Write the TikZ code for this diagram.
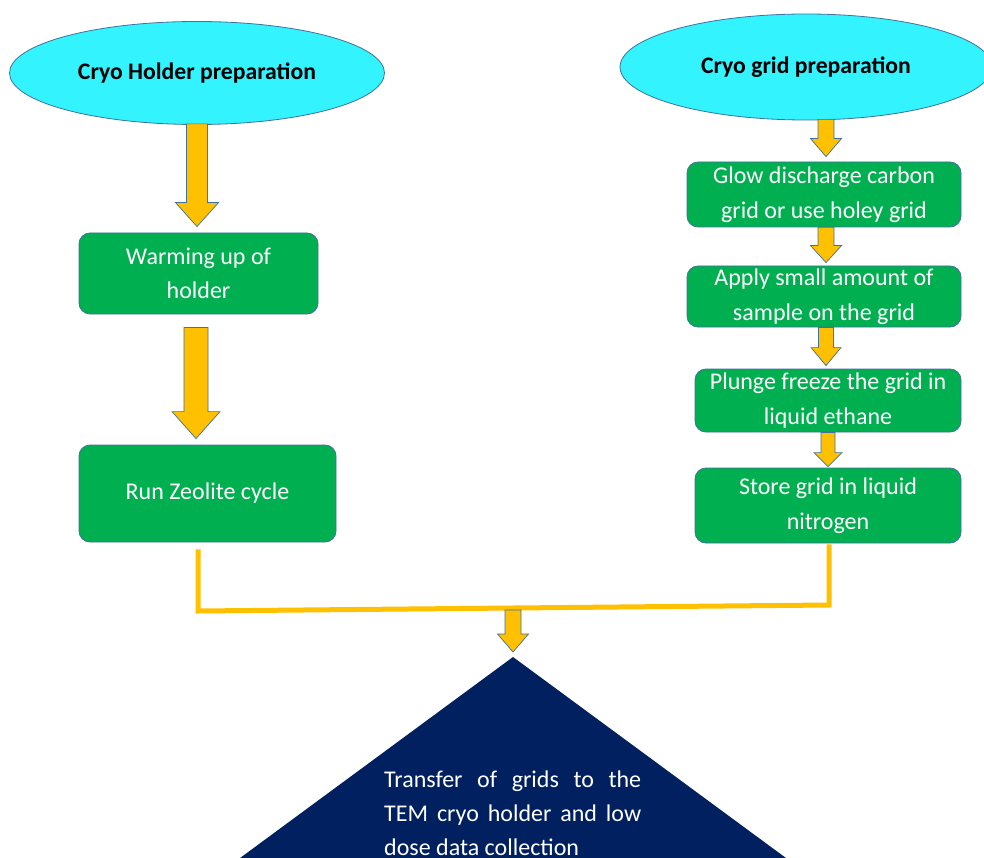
\documentclass[tikz,border=0pt]{standalone}
\usepackage{fontspec}
\setmainfont{Carlito}
\usetikzlibrary{calc,shapes.geometric}
\definecolor{cyanfill}{RGB}{51,243,255}
\definecolor{boxgreen}{RGB}{0,176,80}
\definecolor{outl}{RGB}{65,113,156}
\definecolor{arrowyel}{RGB}{255,192,0}
\definecolor{navy}{RGB}{0,32,96}
\tikzset{
  titleell/.style={ellipse, draw=outl, line width=0.8pt, fill=cyanfill, inner sep=0pt,
    font=\fontsize{23.7}{28}\selectfont\bfseries, text=black},
  gbox/.style={rectangle, rounded corners=11pt, draw=outl, line width=0.8pt, fill=boxgreen,
    inner sep=0pt, text=white, align=center, font=\fontsize{24}{34.5}\selectfont},
  barrowstyle/.style={draw=outl, line width=0.7pt, fill=arrowyel, line join=miter},
  yline/.style={draw=arrowyel, line width=5pt},
}
% #1 start, #2 tip, #3 shaft half width, #4 head half width, #5 head length
\newcommand\blockarrow[5]{%
  \path[barrowstyle] let \p1=(#1), \p2=(#2) in
    (\x2-#3pt,\y1) -- (\x2+#3pt,\y1) -- (\x2+#3pt,\y2+#5pt) -- (\x2+#4pt,\y2+#5pt)
    -- (\x2,\y2) -- (\x2-#4pt,\y2+#5pt) -- (\x2-#3pt,\y2+#5pt) -- cycle;}
\begin{document}
\begin{tikzpicture}[x=1pt,y=-1pt]
\clip (0,0) rectangle (984,858);
\fill[white] (0,0) rectangle (984,858);

% title ellipses
\node[titleell, minimum width=375pt, minimum height=103pt] (e1) at (197,73) {Cryo Holder preparation};
\node[titleell, minimum width=372pt, minimum height=106pt] (e2) at (806,67) {Cryo grid preparation};

% left column
\node[gbox, minimum width=239pt, minimum height=81pt] (b1) at (198.5,273.5) {Warming up of\\holder};
\node[gbox, minimum width=257pt, minimum height=97pt] (b2) at (207.5,493.5) {Run Zeolite cycle};

% right column
\node[gbox, minimum width=274pt, minimum height=65pt] (r1) at (824,194.5) {Glow discharge carbon\\grid or use holey grid};
\node[gbox, minimum width=274pt, minimum height=61pt] (r2) at (824,296.5) {Apply small amount of\\sample on the grid};
\node[gbox, minimum width=266pt, minimum height=63pt] (r3) at (828,400.5) {Plunge freeze the grid in\\liquid ethane};
\node[gbox, minimum width=266pt, minimum height=75pt] (r4) at (828,505.5) {Store grid in liquid\\nitrogen};

% block arrows, left
\coordinate (la1s) at ($(e1.south)+(0,-1)$);
\coordinate (la1t) at ($(b1.north)+(-1.5,-6)$);
\blockarrow{la1s}{la1t}{10.5}{21.5}{24}
\coordinate (la2s) at ($(b1.south)+(-2.5,13)$);
\coordinate (la2t) at ($(b2.north)+(-11.5,-6)$);
\blockarrow{la2s}{la2t}{12}{24}{27}

% block arrows, right
\coordinate (ra1s) at ($(e2.south)+(20,-1)$);
\coordinate (ra1t) at ($(r1.north)+(2,-5)$);
\blockarrow{ra1s}{ra1t}{8}{15.5}{18}
\coordinate (ra2s) at ($(r1.south)+(2,0)$);
\coordinate (ra2t) at ($(r2.north)+(2,-3)$);
\blockarrow{ra2s}{ra2t}{8}{15.5}{17}
\coordinate (ra3s) at ($(r2.south)+(2,0)$);
\coordinate (ra3t) at ($(r3.north)+(-2,-3)$);
\blockarrow{ra3s}{ra3t}{7.5}{15}{18}
\coordinate (ra4s) at ($(r3.south)+(0,0)$);
\coordinate (ra4t) at ($(r4.north)+(0,-1)$);
\blockarrow{ra4s}{ra4t}{7}{14}{14}

% joining lines
\coordinate (ljoin) at (198,611);
\coordinate (rjoin) at (829,605);
\draw[yline, line join=miter] ([yshift=-7pt]b2.south -| ljoin) -- (ljoin) -- (rjoin) -- ([yshift=-1pt]r4.south -| rjoin);

% final triangle
\coordinate (apex) at (513,657);
\path[fill=navy] (apex) -- ($(apex)+(330,243)$) -- ($(apex)+(-330,243)$) -- cycle;
\node[anchor=north west, inner sep=0pt, text width=257pt, align=justify, text=white,
  font=\fontsize{24}{34}\selectfont] (tt) at (384,771)
  {Transfer of grids to the TEM cryo holder and low dose data collection};

% bottom arrow
\coordinate (bas) at (513,610);
\coordinate (bat) at ($(apex)+(0,-5)$);
\blockarrow{bas}{bat}{8}{15.5}{18}
\end{tikzpicture}
\end{document}
